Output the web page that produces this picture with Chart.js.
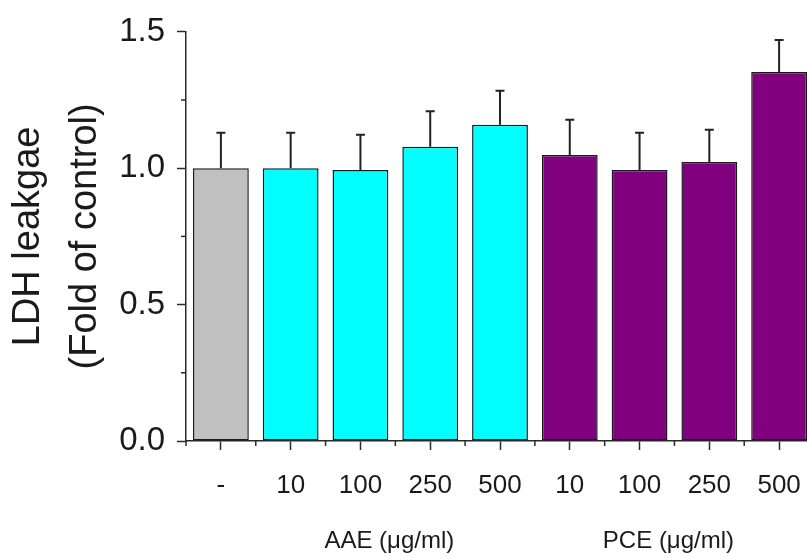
<!DOCTYPE html>
<html>
<head>
<meta charset="utf-8">
<script src="https://cdn.jsdelivr.net/npm/chart.js@4/dist/chart.umd.min.js"></script>
<style>
  html, body { margin: 0; padding: 0; background: #fff; overflow: hidden; }
  #wrap { width: 814px; height: 558px; }
</style>
</head>
<body>
<div id="wrap"><canvas id="c" width="814" height="558"></canvas></div>
<script>
const categories = ['-', '10', '100', '250', '500', '10', '100', '250', '500'];
const means = [1.00, 1.00, 0.993, 1.079, 1.159, 1.048, 0.993, 1.023, 1.353];
const errors = [0.13, 0.13, 0.13, 0.13, 0.125, 0.13, 0.137, 0.118, 0.117];
const groupLabels = ['AAE (\u03bcg/ml)', 'PCE (\u03bcg/ml)'];
const groupMembers = [[1, 2, 3, 4], [5, 6, 7, 8]];
const yTitle = ['LDH leakgae', '(Fold of control)'];

const FONT = "'Liberation Sans', Arial, sans-serif";
const INK = '#1a1a1a';
const AXIS = '#2a2a2a';

function fillFor(i) {
  if (i === 0) return '#c0c0c0';
  if (i <= 4) return '#00ffff';
  return '#800080';
}

const extrasPlugin = {
  id: 'extras',
  afterDatasetsDraw(chart) {
    const ctx = chart.ctx;
    const x = chart.scales.x, y = chart.scales.y;
    ctx.save();
    ctx.strokeStyle = '#222';
    ctx.lineWidth = 2;
    means.forEach((m, i) => {
      const px = x.getPixelForValue(i);
      const y0 = y.getPixelForValue(m);
      const y1 = y.getPixelForValue(m + errors[i]);
      ctx.beginPath();
      ctx.moveTo(px, y0);
      ctx.lineTo(px, y1);
      ctx.moveTo(px - 4.5, y1);
      ctx.lineTo(px + 4.5, y1);
      ctx.stroke();
    });
    ctx.restore();
  },
  afterDraw(chart) {
    const ctx = chart.ctx;
    const x = chart.scales.x, y = chart.scales.y;
    const area = chart.chartArea;
    ctx.save();
    ctx.strokeStyle = AXIS;
    ctx.lineWidth = 1.5;
    y.ticks.forEach(t => {
      if (Math.abs(t.value * 2 - Math.round(t.value * 2)) > 1e-6) {
        const py = y.getPixelForValue(t.value);
        ctx.beginPath();
        ctx.moveTo(area.left - 5, py);
        ctx.lineTo(area.left, py);
        ctx.stroke();
      }
    });
    for (let i = 0; i <= categories.length; i++) {
      const px = x.getPixelForValue(i - 0.5);
      ctx.beginPath();
      ctx.moveTo(px, area.bottom);
      ctx.lineTo(px, area.bottom + 5);
      ctx.stroke();
    }
    ctx.fillStyle = INK;
    ctx.font = '24px ' + FONT;
    ctx.textAlign = 'center';
    ctx.textBaseline = 'middle';
    groupLabels.forEach((lab, g) => {
      const idx = groupMembers[g];
      const c = (x.getPixelForValue(idx[0]) + x.getPixelForValue(idx[idx.length - 1])) / 2;
      ctx.fillText(lab, c - 6, 541);
    });
    ctx.restore();
  }
};

new Chart(document.getElementById('c'), {
  type: 'bar',
  data: {
    labels: categories,
    datasets: [{
      data: means,
      backgroundColor: means.map((v, i) => fillFor(i)),
      borderColor: '#1a1a1a',
      borderWidth: 1.5,
      borderSkipped: false,
      barPercentage: 0.8,
      categoryPercentage: 1.0
    }]
  },
  options: {
    responsive: false,
    animation: false,
    events: [],
    layout: { padding: { top: 29, left: 0, right: 0, bottom: 0 } },
    plugins: { legend: { display: false }, tooltip: { enabled: false } },
    scales: {
      x: {
        offset: true,
        grid: { offset: false, drawOnChartArea: false, drawTicks: true, tickLength: 9, tickWidth: 1.5, tickColor: AXIS },
        border: { display: true, color: AXIS, width: 1.5 },
        ticks: { color: INK, font: { family: FONT, size: 26, lineHeight: 2.54 }, padding: 3, maxRotation: 0, autoSkip: false },
        afterFit(scale) { scale.height = 117; }
      },
      y: {
        min: 0,
        max: 1.5,
        grid: {
          drawOnChartArea: false, drawTicks: true, tickLength: 9, tickWidth: 1.5,
          tickColor: (c) => (c.tick && Math.abs(c.tick.value * 2 - Math.round(c.tick.value * 2)) < 1e-6) ? AXIS : 'rgba(0,0,0,0)'
        },
        border: { display: true, color: AXIS, width: 1.5 },
        ticks: {
          stepSize: 0.25,
          color: INK,
          font: { family: FONT, size: 33 },
          padding: 12,
          callback: (v) => (Math.abs(v * 2 - Math.round(v * 2)) < 1e-6) ? Number(v).toFixed(1) : ''
        },
        title: {
          display: true,
          text: yTitle,
          color: INK,
          font: { family: FONT, size: 38, lineHeight: 1.5 },
          padding: { top: 0, bottom: 0 }
        },
        afterFit(scale) { scale.width = 186; }
      }
    }
  },
  plugins: [extrasPlugin]
});
</script>
</body>
</html>
